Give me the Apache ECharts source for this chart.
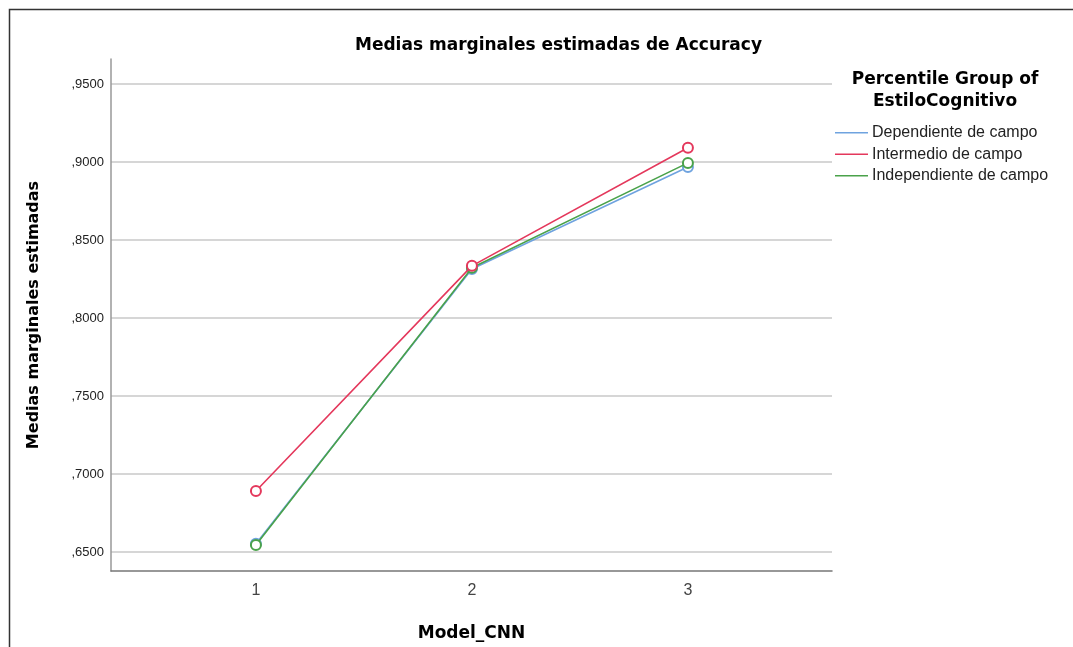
<!DOCTYPE html>
<html>
<head>
<meta charset="utf-8">
<script src="https://cdn.jsdelivr.net/npm/echarts@6/dist/echarts.min.js"></script>
<style>html,body{margin:0;padding:0;background:#fff;}#c{width:1073px;height:647px;}</style>
</head>
<body>
<div id="c"></div>
<script>
const categories = [1, 2, 3];
const seriesNames = ['Dependiente de campo', 'Intermedio de campo', 'Independiente de campo'];
const dependiente = [0.6552, 0.8314, 0.8968];
const intermedio = [0.6891, 0.8334, 0.9091];
const independiente = [0.6545, 0.8322, 0.8994];
const yTicks = [0.65, 0.70, 0.75, 0.80, 0.85, 0.90, 0.95];
const colors = ['#6fa3df', '#e4385c', '#4aa24a'];

const values = [dependiente, intermedio, independiente];
const font = '"Liberation Sans", Arial, sans-serif';
const bfont = '"DejaVu Sans", sans-serif';
const chart = echarts.init(document.getElementById('c'));
const series = seriesNames.map((n, i) => ({
  name: n,
  type: 'line',
  data: categories.map((c, j) => [c, values[i][j]]),
  symbol: 'emptyCircle',
  symbolSize: 10,
  lineStyle: { width: 1.6, color: colors[i] },
  itemStyle: { color: colors[i], borderWidth: 1.5 },
  z: [2, 4, 3][i]
}));
chart.setOption({
  animation: false,
  backgroundColor: '#fff',
  textStyle: { fontFamily: font },
  title: {
    text: 'Medias marginales estimadas de Accuracy',
    left: 350, top: 32,
    textStyle: { fontFamily: bfont, fontSize: 17, fontWeight: 'bold', color: '#000' }
  },
  graphic: [
    { type: 'rect', shape: { x: 9.5, y: 9.5, width: 1100, height: 700 }, style: { fill: 'none', stroke: '#333', lineWidth: 1.5 }, z: 100 },
    { type: 'text', x: 945, y: 69, style: { text: 'Percentile Group of\nEstiloCognitivo', textAlign: 'center', textVerticalAlign: 'top', font: 'bold 17px ' + bfont, fill: '#000', lineHeight: 22 } }
  ],
  legend: {
    orient: 'vertical', left: 830, top: 117, itemGap: 0,
    itemWidth: 33, itemHeight: 1.5, icon: 'rect',
    data: seriesNames,
    textStyle: { fontFamily: font, fontSize: 16, color: '#222', lineHeight: 21.5, padding: [0, 0, 0, -1] }
  },
  grid: { left: 111, right: 241, top: 59, bottom: 76 },
  xAxis: {
    type: 'value', min: 0.329, max: 3.667,
    name: 'Model_CNN', nameLocation: 'middle', nameGap: 54,
    nameTextStyle: { fontFamily: bfont, fontSize: 17, fontWeight: 'bold', color: '#000' },
    axisLine: { lineStyle: { color: '#777', width: 1.5 } },
    axisTick: { show: false, customValues: categories },
    axisLabel: { customValues: categories, fontSize: 16, color: '#444', margin: 12, fontFamily: font },
    splitLine: { show: false }
  },
  yAxis: {
    type: 'value', min: 0.6378, max: 0.966,
    name: 'Medias marginales estimadas', nameLocation: 'middle', nameGap: 69,
    nameTextStyle: { fontFamily: bfont, fontSize: 16, fontWeight: 'bold', color: '#000' },
    axisLine: { show: true, lineStyle: { color: '#999', width: 1.5 } },
    axisTick: { show: false, customValues: yTicks },
    axisLabel: { customValues: yTicks, fontSize: 13, color: '#222', margin: 7, fontFamily: font,
      formatter: v => v.toFixed(4).replace('0.', ',') },
    splitLine: { show: true, lineStyle: { color: '#c8c8c8', width: 1.5 } }
  },
  series: series
});
</script>
</body>
</html>
